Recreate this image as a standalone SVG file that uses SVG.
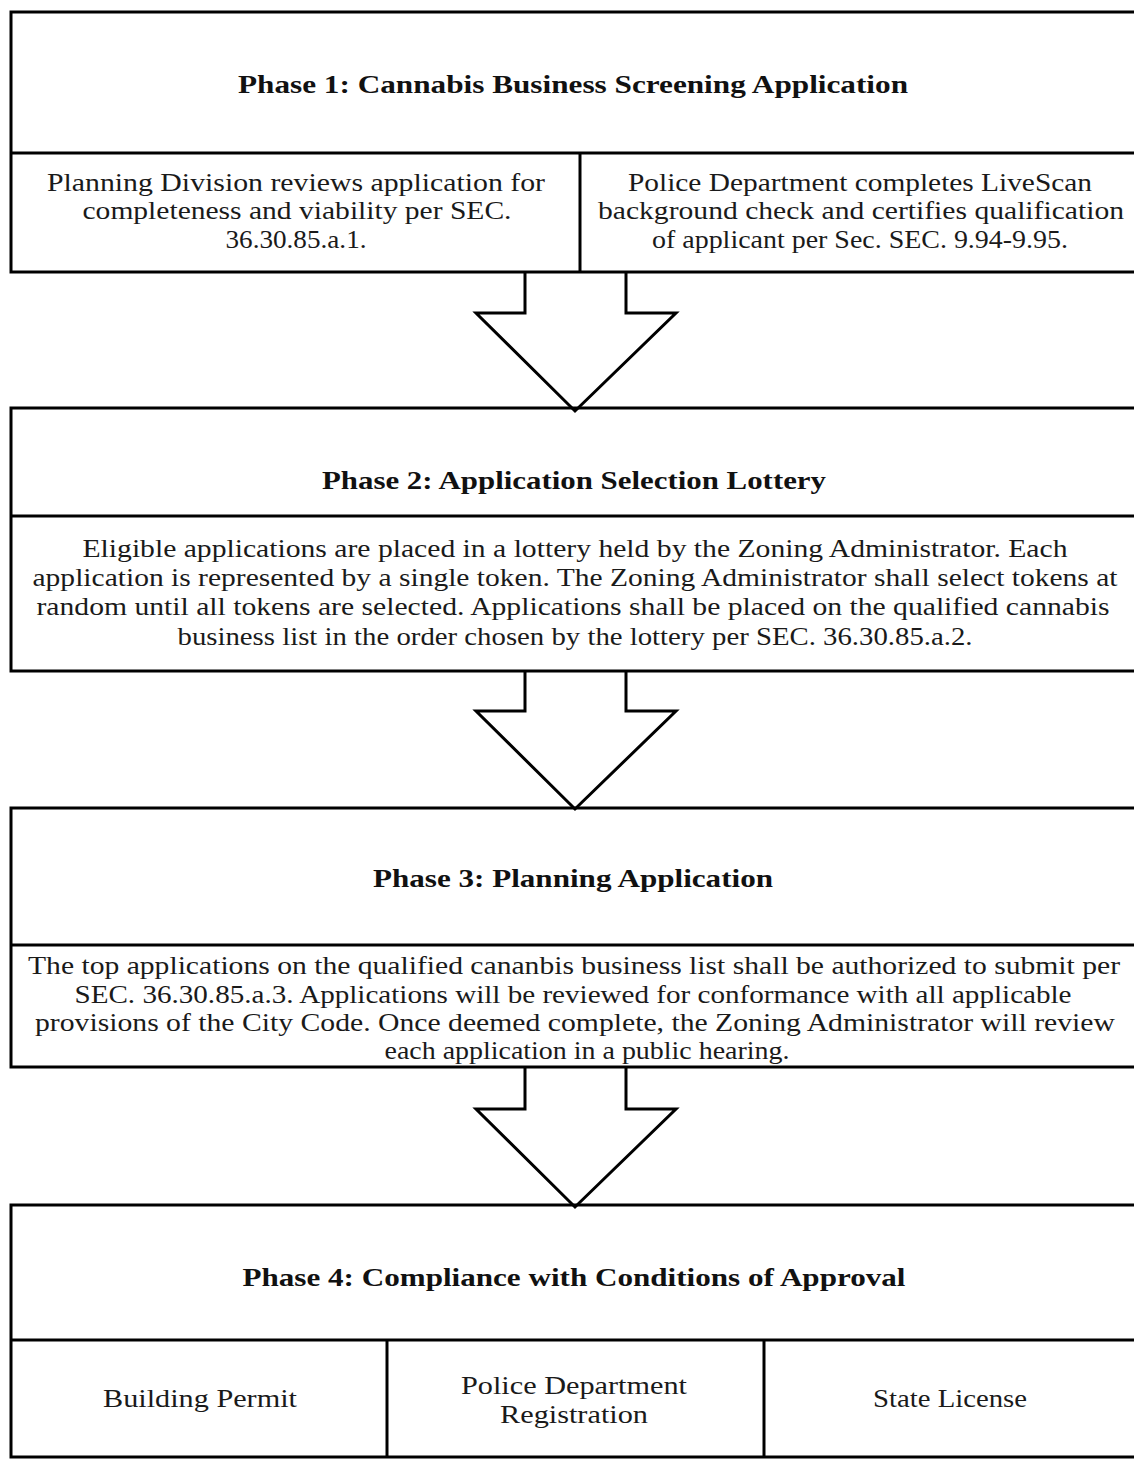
<svg xmlns="http://www.w3.org/2000/svg" width="1134" height="1460" viewBox="0 0 1134 1460">
<style>
.box{fill:none;stroke:#000;stroke-width:3}
.ln{stroke:#000;stroke-width:3}
.arr{fill:#fff;stroke:#000;stroke-width:3;stroke-linejoin:miter}
.t{font-family:"Liberation Serif","Times New Roman",serif;font-size:25px;fill:#1a1a1a;text-anchor:middle}
.h{font-family:"Liberation Serif","Times New Roman",serif;font-size:26px;font-weight:bold;fill:#111;text-anchor:middle}
</style>
<rect width="1134" height="1460" fill="#fff"/>
<g id="connectors">
<polyline class="arr" points="525,272 525,313 476,313 575,411 676,313 626,313 626,272"/>
<polyline class="arr" points="525,671 525,711 476,711 575,809 676,711 626,711 626,671"/>
<polyline class="arr" points="525,1067 525,1109 476,1109 575,1207 676,1109 626,1109 626,1067"/>
</g>
<g id="phase1">
<rect class="box" x="11" y="12" width="1126" height="260"/>
<line class="ln" x1="11" y1="153" x2="1137" y2="153"/>
<text class="h" x="573" y="93" textLength="670" lengthAdjust="spacingAndGlyphs">Phase 1: Cannabis Business Screening Application</text>
</g>
<g id="phase1-planning">
<line class="ln" x1="580" y1="153" x2="580" y2="272"/>
<text class="t" x="296" y="191" textLength="498" lengthAdjust="spacingAndGlyphs">Planning Division reviews application for</text>
<text class="t" x="297" y="219" textLength="429" lengthAdjust="spacingAndGlyphs">completeness and viability per SEC.</text>
<text class="t" x="296" y="248" textLength="141" lengthAdjust="spacingAndGlyphs">36.30.85.a.1.</text>
</g>
<g id="phase1-police">
<text class="t" x="860" y="191" textLength="464" lengthAdjust="spacingAndGlyphs">Police Department completes LiveScan</text>
<text class="t" x="861" y="219" textLength="526" lengthAdjust="spacingAndGlyphs">background check and certifies qualification</text>
<text class="t" x="860" y="248" textLength="416" lengthAdjust="spacingAndGlyphs">of applicant per Sec. SEC. 9.94-9.95.</text>
</g>
<g id="phase2">
<rect class="box" x="11" y="408" width="1126" height="263"/>
<line class="ln" x1="11" y1="516" x2="1137" y2="516"/>
<text class="h" x="574" y="489" textLength="504" lengthAdjust="spacingAndGlyphs">Phase 2: Application Selection Lottery</text>
<text class="t" x="575" y="557" textLength="985" lengthAdjust="spacingAndGlyphs">Eligible applications are placed in a lottery held by the Zoning Administrator.  Each</text>
<text class="t" x="575" y="586" textLength="1085" lengthAdjust="spacingAndGlyphs">application is represented by a single token. The Zoning Administrator shall select tokens at</text>
<text class="t" x="573" y="615" textLength="1073" lengthAdjust="spacingAndGlyphs">random until all tokens are selected. Applications shall be placed on the qualified cannabis</text>
<text class="t" x="575" y="645" textLength="795" lengthAdjust="spacingAndGlyphs">business list in the order chosen by the lottery per SEC. 36.30.85.a.2.</text>
</g>
<g id="phase3">
<rect class="box" x="11" y="808" width="1126" height="259"/>
<line class="ln" x1="11" y1="945" x2="1137" y2="945"/>
<text class="h" x="573" y="887" textLength="400" lengthAdjust="spacingAndGlyphs">Phase 3: Planning Application</text>
<text class="t" x="574" y="974" textLength="1092" lengthAdjust="spacingAndGlyphs">The top applications on the qualified cananbis business list shall be authorized to submit per</text>
<text class="t" x="573" y="1003" textLength="997" lengthAdjust="spacingAndGlyphs">SEC. 36.30.85.a.3.  Applications will be reviewed for conformance with all applicable</text>
<text class="t" x="575" y="1031" textLength="1080" lengthAdjust="spacingAndGlyphs">provisions of the City Code. Once deemed complete, the Zoning Administrator will review</text>
<text class="t" x="587" y="1059" textLength="405" lengthAdjust="spacingAndGlyphs">each application in a public hearing.</text>
</g>
<g id="phase4">
<rect class="box" x="11" y="1205" width="1126" height="252"/>
<line class="ln" x1="11" y1="1340" x2="1137" y2="1340"/>
<text class="h" x="574" y="1286" textLength="663" lengthAdjust="spacingAndGlyphs">Phase 4: Compliance with Conditions of Approval</text>
</g>
<g id="building-permit">
<text class="t" x="200" y="1407" textLength="194" lengthAdjust="spacingAndGlyphs">Building Permit</text>
</g>
<g id="police-registration">
<line class="ln" x1="387" y1="1340" x2="387" y2="1457"/>
<line class="ln" x1="764" y1="1340" x2="764" y2="1457"/>
<text class="t" x="574" y="1394" textLength="226" lengthAdjust="spacingAndGlyphs">Police Department</text>
<text class="t" x="574" y="1423" textLength="148" lengthAdjust="spacingAndGlyphs">Registration</text>
</g>
<g id="state-license">
<text class="t" x="950" y="1407" textLength="154" lengthAdjust="spacingAndGlyphs">State License</text>
</g>
</svg>
